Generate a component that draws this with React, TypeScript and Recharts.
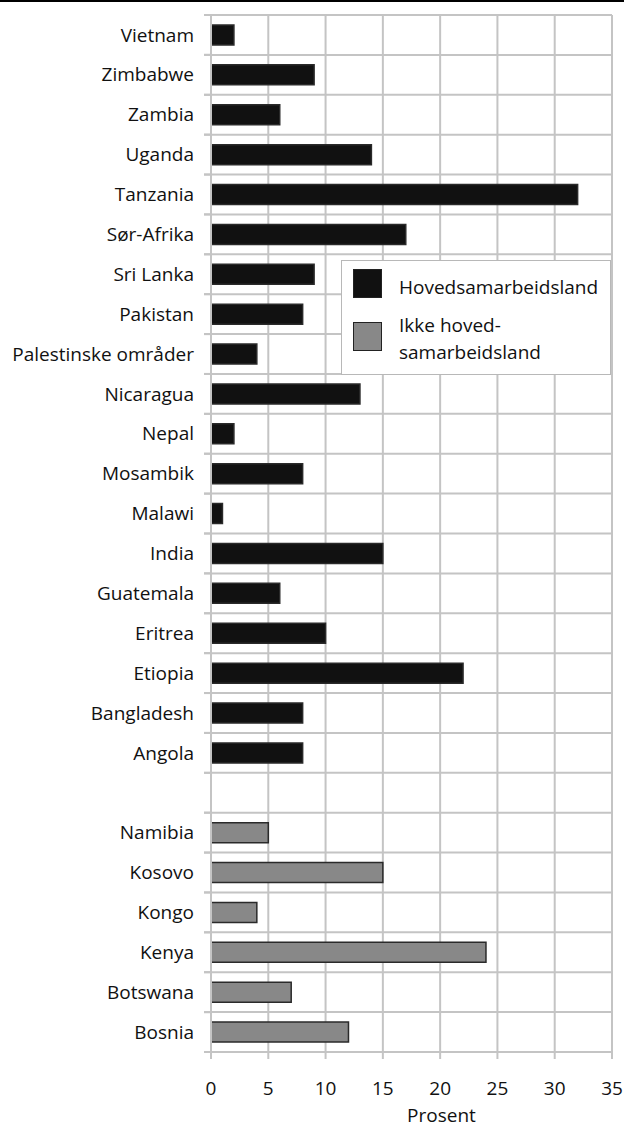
import { BarChart, Bar, XAxis, YAxis, CartesianGrid, Legend } from 'recharts';

const mainCountries = [
  'Vietnam', 'Zimbabwe', 'Zambia', 'Uganda', 'Tanzania', 'Sør-Afrika', 'Sri Lanka',
  'Pakistan', 'Palestinske områder', 'Nicaragua', 'Nepal', 'Mosambik', 'Malawi',
  'India', 'Guatemala', 'Eritrea', 'Etiopia', 'Bangladesh', 'Angola',
];
const mainValues = [2, 9, 6, 14, 32, 17, 9, 8, 4, 13, 2, 8, 1, 15, 6, 10, 22, 8, 8];

const otherCountries = ['Namibia', 'Kosovo', 'Kongo', 'Kenya', 'Botswana', 'Bosnia'];
const otherValues = [5, 15, 4, 24, 7, 12];

const xTicks = [0, 5, 10, 15, 20, 25, 30, 35];

const MAIN_LABEL = 'Hovedsamarbeidsland';
const OTHER_LABEL = 'Ikke hoved-samarbeidsland';

const data = [
  ...mainCountries.map((name, i) => ({ name, hoved: mainValues[i], ikke: null })),
  { name: '', hoved: null, ikke: null },
  ...otherCountries.map((name, i) => ({ name, hoved: null, ikke: otherValues[i] })),
];

const FONT = '"Open Sans", sans-serif';
const FS = 19;
const GRID = '#c4c4c4';
const W = 624;
const H = 1124;
const TOP = 15;
const BOTTOM_AXIS = 72;
const BAND = (H - TOP - BOTTOM_AXIS) / data.length;

function CategoryTick(props: any) {
  const { x, y, payload } = props;
  return (
    <g>
      <line x1={x + 10} x2={x + 17} y1={y - BAND / 2} y2={y - BAND / 2} stroke={GRID} strokeWidth={2} />
      <line x1={x + 10} x2={x + 17} y1={y + BAND / 2} y2={y + BAND / 2} stroke={GRID} strokeWidth={2} />
      <text x={x} y={y} dy="0.35em" textAnchor="end" fill="#111" fontSize={FS} fontFamily={FONT}>
        {payload.value}
      </text>
    </g>
  );
}

function LegendBox() {
  const square = (fill: string) => ({
    position: 'absolute' as const,
    left: 11,
    width: 27,
    height: 27,
    background: fill,
    border: '1.5px solid #222',
  });
  return (
    <div
      style={{
        position: 'relative',
        width: 268,
        height: 113,
        border: '1.5px solid #b8b8b8',
        background: '#fff',
        fontFamily: FONT,
        fontSize: FS,
        color: '#111',
        textAlign: 'left',
      }}
    >
      <div style={{ ...square('#111111'), top: 8 }} />
      <div style={{ position: 'absolute', left: 57, top: 13, lineHeight: '27px' }}>{MAIN_LABEL}</div>
      <div style={{ ...square('#888888'), top: 61 }} />
      <div style={{ position: 'absolute', left: 57, top: 51, lineHeight: '27px' }}>
        Ikke hoved-
        <br />
        samarbeidsland
      </div>
    </div>
  );
}

export default function App() {
  return (
    <div style={{ position: 'absolute', left: 0, top: 0, width: W, height: H, background: '#fff' }}>
      <div style={{ position: 'absolute', left: 0, top: 0, width: W, height: 2, background: '#000', zIndex: 2 }} />
      <BarChart
        width={W}
        height={H}
        data={data}
        layout="vertical"
        margin={{ top: TOP, right: 12, bottom: 0, left: 0 }}
        barCategoryGap="25%"
      >
        <CartesianGrid
          stroke={GRID}
          strokeWidth={2}
          horizontalCoordinatesGenerator={({ offset }: any) =>
            data.map((_, i) => offset.top + (offset.height * i) / data.length).concat(offset.top + offset.height)
          }
        />
        <XAxis
          type="number"
          domain={[0, 35]}
          ticks={xTicks}
          height={BOTTOM_AXIS}
          stroke={GRID}
          strokeWidth={2}
          tickSize={7}
          tickMargin={23}
          tick={{ fill: '#111', fontSize: FS, fontFamily: FONT }}
          label={{ value: 'Prosent', position: 'insideBottom', offset: 2, dx: 30, fill: '#111', fontSize: FS, fontFamily: FONT }}
        />
        <YAxis
          type="category"
          dataKey="name"
          width={211}
          stroke={GRID}
          strokeWidth={2}
          tickLine={false}
          tickSize={7}
          tickMargin={10}
          interval={0}
          tick={<CategoryTick />}
        />
        <Legend
          layout="horizontal"
          verticalAlign="middle"
          align="center"
          content={() => <LegendBox />}
          wrapperStyle={{ position: 'absolute', left: 341, top: 260, right: 'auto', bottom: 'auto', width: 271, height: 116 }}
        />
        <Bar dataKey="hoved" name={MAIN_LABEL} stackId="s" fill="#111111" stroke="#2a2a2a" strokeWidth={1.5} isAnimationActive={false} />
        <Bar dataKey="ikke" name={OTHER_LABEL} stackId="s" fill="#888888" stroke="#2a2a2a" strokeWidth={1.5} isAnimationActive={false} />
      </BarChart>
    </div>
  );
}
